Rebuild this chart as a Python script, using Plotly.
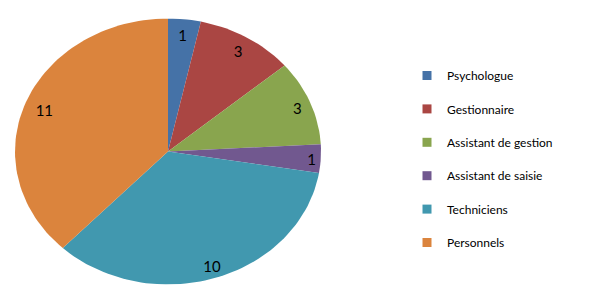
import numpy as np
import plotly.graph_objects as go

categories = ["Psychologue", "Gestionnaire", "Assistant de gestion",
              "Assistant de saisie", "Techniciens", "Personnels"]
values = [1, 3, 3, 1, 10, 11]
colors = ["#4572A7", "#AA4643", "#89A54E", "#71588F", "#4198AF", "#DB843D"]

# label placement (fraction of radius) for each slice
label_r = [0.89, 0.89, 0.91, 0.94, 0.9, 0.87]

W, H = 600, 300
total = sum(values)
fig = go.Figure()

cum = 0
lab_x, lab_y, lab_t = [], [], []
for cat, v, c, lr in zip(categories, values, colors, label_r):
    a0 = cum / total * 2 * np.pi
    cum += v
    a1 = cum / total * 2 * np.pi
    t = np.linspace(a0, a1, max(8, int(200 * v / total)))
    xs = np.concatenate([[0], np.sin(t), [0]])
    ys = np.concatenate([[0], np.cos(t), [0]])
    fig.add_trace(go.Scatter(x=xs, y=ys, fill="toself", fillcolor=c,
                             mode="lines", line=dict(width=0, color=c),
                             showlegend=False, hoverinfo="skip"))
    am = (a0 + a1) / 2
    lab_x.append(lr * np.sin(am))
    lab_y.append(lr * np.cos(am) - 0.025)
    lab_t.append(str(v))

fig.add_trace(go.Scatter(x=lab_x, y=lab_y, text=lab_t, mode="text",
                         textfont=dict(family="Lato", size=15, color="#000000"),
                         showlegend=False, hoverinfo="skip"))

for cat, c in zip(categories, colors):
    fig.add_trace(go.Scatter(x=[None], y=[None], mode="markers", name=cat,
                             legendgroup=cat,
                             marker=dict(symbol="square", size=9, color=c)))

fig.update_layout(
    width=W, height=H,
    margin=dict(l=0, r=0, t=0, b=0),
    paper_bgcolor="white", plot_bgcolor="white",
    xaxis=dict(domain=[15 / W, 321 / W], range=[-1, 1], visible=False),
    yaxis=dict(domain=[(H - 284.5) / H, (H - 18.5) / H], range=[-1, 1], visible=False),
    legend=dict(x=407 / W, y=(H - 61) / H, xanchor="left", yanchor="top",
                font=dict(family="Lato", size=12, color="#000000"),
                tracegroupgap=14.4, bgcolor="rgba(0,0,0,0)"),
)

fig.write_html("out.html")
